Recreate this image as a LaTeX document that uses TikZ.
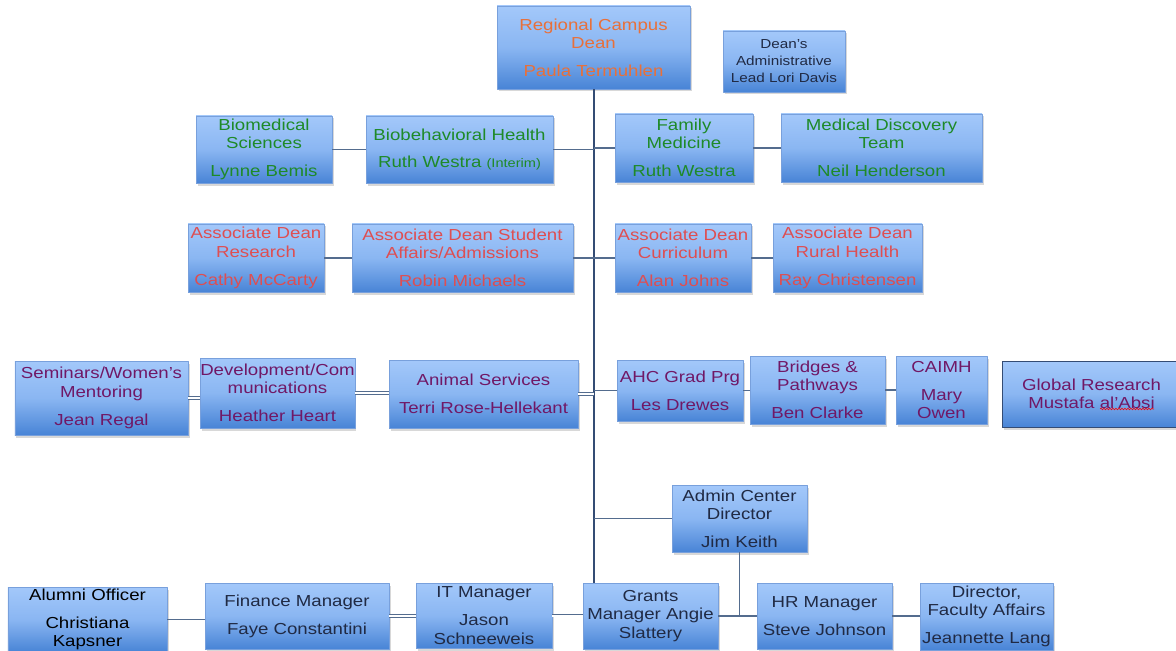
\documentclass[tikz,border=0pt]{standalone}
\usepackage{fontspec}
\setmainfont{Liberation Sans}[FakeStretch=1.17]
\usetikzlibrary{shadows,decorations.pathmorphing}
\definecolor{boxtop}{RGB}{163,200,250}
\definecolor{boxmid}{RGB}{138,182,242}
\definecolor{boxbot}{RGB}{72,132,214}
\definecolor{boxedge}{RGB}{120,160,220}
\definecolor{linkcol}{RGB}{84,108,142}
\definecolor{trunkcol}{RGB}{52,76,116}
\definecolor{orangetxt}{RGB}{232,112,58}
\definecolor{greentxt}{RGB}{30,138,40}
\definecolor{redtxt}{RGB}{222,78,82}
\definecolor{purpletxt}{RGB}{112,24,102}
\definecolor{navytxt}{RGB}{32,42,68}
\newcommand{\orgfont}{\fontsize{16}{18.5}\selectfont}
\newcommand{\leadfont}{\fontsize{13.1}{17}\selectfont}
\begin{document}
\begin{tikzpicture}[x=1bp,y=-1bp,line join=bevel,
  orgbox/.style={draw=boxedge,line width=0.4bp,top color=boxtop,bottom color=boxbot,middle color=boxmid,
    drop shadow={shadow xshift=1.5bp,shadow yshift=-2.5bp,opacity=0.3},
    inner sep=0pt,align=center,font=\orgfont},
  link/.style={draw=linkcol,line width=1.1bp},
  dlink/.style={draw=linkcol,line width=0.7bp,double=white,double distance=2bp},
  trunk/.style={draw=trunkcol,line width=2bp}]
%%
\useasboundingbox (0,0) rectangle (1176,651);
\fill[white] (0,0) rectangle (1176,651);
\node (node_dean) at (593.5,47.5) [orgbox,minimum width=193bp,minimum height=83bp,text=orangetxt] {Regional Campus\\Dean\\[9.5bp]Paula Termuhlen};
  \node (node_lead) at (784,61.5) [orgbox,minimum width=122bp,minimum height=61bp,text=navytxt,font=\leadfont] {Dean's\\Administrative\\Lead Lori Davis};
  \node (node_biomed) at (264,149.5) [orgbox,minimum width=136bp,minimum height=67bp,text=greentxt] {Biomedical\\Sciences\\[9.5bp]Lynne Bemis};
  \node (node_biobeh) at (459.5,149.5) [orgbox,minimum width=187bp,minimum height=67bp,text=greentxt] {Biobehavioral Health\\[9.5bp]Ruth Westra {\fontsize{12.5}{14}\selectfont (Interim)}};
  \node (node_family) at (684,148) [orgbox,minimum width=138bp,minimum height=68bp,text=greentxt] {Family\\Medicine\\[9.5bp]Ruth Westra};
  \node (node_meddisc) at (881.5,148) [orgbox,minimum width=201bp,minimum height=68bp,text=greentxt] {Medical Discovery\\Team\\[9.5bp]Neil Henderson};
  \node (node_adresearch) at (256,258) [orgbox,minimum width=136bp,minimum height=68bp,text=redtxt] {Associate Dean\\Research\\[9.5bp]Cathy McCarty};
  \node (node_adstudent) at (462.5,258) [orgbox,minimum width=221bp,minimum height=68bp,text=redtxt] {Associate Dean Student\\Affairs/Admissions\\[9.5bp]Robin Michaels};
  \node (node_adcurric) at (683,258) [orgbox,minimum width=136bp,minimum height=68bp,text=redtxt] {Associate Dean\\Curriculum\\[9.5bp]Alan Johns};
  \node (node_adrural) at (847.5,258) [orgbox,minimum width=149bp,minimum height=68bp,text=redtxt] {Associate Dean\\Rural Health\\[9.5bp]Ray Christensen};
  \node (node_seminars) at (101.5,398) [orgbox,minimum width=173bp,minimum height=74bp,text=purpletxt] {Seminars/Women's\\Mentoring\\[9.5bp]Jean Regal};
  \node (node_develop) at (277.5,393) [orgbox,minimum width=145bp,minimum height=70bp,text=purpletxt] {Development/Com\\munications\\[9.5bp]Heather Heart};
  \node (node_animal) at (483.5,394) [orgbox,minimum width=189bp,minimum height=68bp,text=purpletxt] {Animal Services\\[9.5bp]Terri Rose-Hellekant};
  \node (node_ahc) at (680,390.5) [orgbox,minimum width=126bp,minimum height=61bp,text=purpletxt] {AHC Grad Prg\\[9.5bp]Les Drewes};
  \node (node_bridges) at (817.5,390) [orgbox,minimum width=135bp,minimum height=68bp,text=purpletxt] {Bridges \&\\Pathways\\[9.5bp]Ben Clarke};
  \node (node_caimh) at (941.5,390) [orgbox,minimum width=91bp,minimum height=68bp,text=purpletxt] {CAIMH\\[9.5bp]Mary\\Owen};
  \node (node_global) at (1091.5,394) [orgbox,draw=trunkcol,line width=1bp,minimum width=179bp,minimum height=66bp,text=purpletxt] {Global Research\\Mustafa al'Absi};
  \node (node_admin) at (739.5,518.5) [orgbox,minimum width=135bp,minimum height=67bp,text=navytxt] {Admin Center\\Director\\[9.5bp]Jim Keith};
  \node (node_alumni) at (87.5,619.5) [orgbox,minimum width=159bp,minimum height=65bp,text=black] {Alumni Officer\\[9.5bp]Christiana\\Kapsner};
  \node (node_finance) at (297,616) [orgbox,minimum width=184bp,minimum height=66bp,text=navytxt] {Finance Manager\\[9.5bp]Faye Constantini};
  \node (node_it) at (484,615.5) [orgbox,minimum width=136bp,minimum height=65bp,text=navytxt] {IT Manager\\[9.5bp]Jason\\Schneeweis};
  \node (node_grants) at (650.5,616) [orgbox,minimum width=135bp,minimum height=66bp,text=navytxt] {Grants\\Manager Angie\\Slattery};
  \node (node_hr) at (824.5,616) [orgbox,minimum width=135bp,minimum height=66bp,text=navytxt] {HR Manager\\[9.5bp]Steve Johnson};
  \node (node_director) at (986.5,616.5) [orgbox,minimum width=133bp,minimum height=67bp,text=navytxt] {Director,\\Faculty Affairs\\[9.5bp]Jeannette Lang};
  \draw [trunk] (node_dean.south) -- (node_dean.south |- node_grants.north);
  \draw [link] (node_biomed) -- (node_biobeh);
  \draw [link] (node_biobeh.east) -- (node_biobeh.east -| node_dean.south);
  \draw [link] (node_family.west -| node_dean.south) -- (node_family.west);
  \draw [link] (node_family) -- (node_meddisc);
  \draw [link] (node_adresearch) -- (node_adstudent);
  \draw [link] (node_adstudent.east) -- (node_adstudent.east -| node_dean.south);
  \draw [link] (node_adcurric.west -| node_dean.south) -- (node_adcurric.west);
  \draw [link] (node_adcurric) -- (node_adrural);
  \draw [dlink] (node_seminars.east) -- (node_seminars.east -| node_develop.west);
  \draw [dlink] (node_develop.east) -- (node_develop.east -| node_animal.west);
  \draw [dlink] (node_animal.east) -- (node_animal.east -| node_dean.south);
  \draw [link] (node_ahc.west -| node_dean.south) -- (node_ahc.west);
  \draw [link] (node_ahc.east) -- (node_ahc.east -| node_bridges.west);
  \draw [link] (node_bridges.east) -- (node_bridges.east -| node_caimh.west);
  \draw [link] (node_admin.west -| node_dean.south) -- (node_admin.west);
  \draw [link] (node_admin.south) -- (node_admin.south |- node_hr.west);
  \draw [link] (node_alumni.east) -- (node_alumni.east -| node_finance.west);
  \draw [dlink] (node_finance.east) -- (node_finance.east -| node_it.west);
  \draw [dlink] (node_it.east) -- (node_it.east -| node_grants.west);
  \draw [link] (node_grants.east) -- (node_grants.east -| node_hr.west);
  \draw [link] (node_hr.east) -- (node_hr.east -| node_director.west);
  \draw [red,line width=0.6bp,decorate,decoration={snake,amplitude=0.8bp,segment length=3bp}] ([xshift=8.5bp,yshift=-15bp]node_global.center) -- ++(54,0);
%
\end{tikzpicture}
\end{document}
